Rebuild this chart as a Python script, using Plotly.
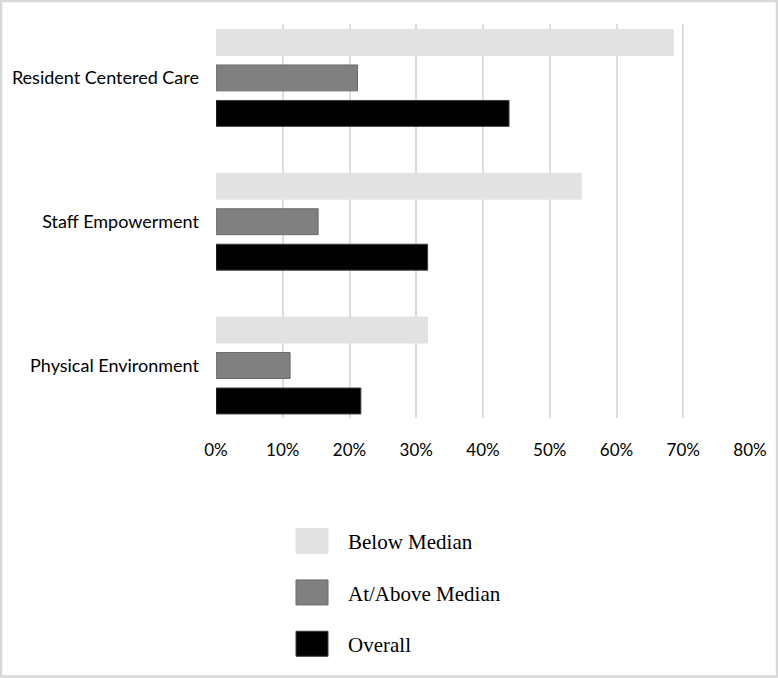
import plotly.graph_objects as go

categories = ["Resident Centered Care", "Staff Empowerment", "Physical Environment"]
below_median = [0.685, 0.547, 0.317]
at_above_median = [0.212, 0.153, 0.111]
overall = [0.439, 0.317, 0.217]
series_names = ["Below Median", "At/Above Median", "Overall"]
tick_vals = [0, 0.1, 0.2, 0.3, 0.4, 0.5, 0.6, 0.7, 0.8]

fills = ["#e2e2e2", "#808080", "#000000"]
lines = ["#e2e2e2", "#6a6a6a", "#3a3a3a"]

fig = go.Figure()
for name, vals, fc, lc in zip(series_names, [below_median, at_above_median, overall], fills, lines):
    fig.add_trace(go.Bar(
        y=categories, x=vals, name=name, orientation="h",
        marker=dict(color=fc, line=dict(color=lc, width=1)),
        legendgroup=name,
    ))

L, R, T, B = 216, 28, 24, 678 - 418
W, H = 778, 678
pw, ph = W - L - R, H - T - B

def px_x(p):
    return (p - L) / pw

def px_y(p):
    return (H - B - p) / ph

fig.update_layout(
    width=W, height=H,
    margin=dict(l=L, r=R, t=T, b=B, pad=0),
    paper_bgcolor="white", plot_bgcolor="white",
    barmode="group", bargap=0.26, bargroupgap=0.27,
    font=dict(family="Lato, Open Sans, sans-serif", size=18, color="#000000"),
    xaxis=dict(
        range=[0, 0.8], tickvals=tick_vals, tickformat=".0%",
        showgrid=True, gridcolor="#dcdcdc", gridwidth=2,
        zeroline=False, showline=False, ticks="",
        ticklabelstandoff=20, fixedrange=True,
        tickfont=dict(size=17),
    ),
    yaxis=dict(
        categoryorder="array", categoryarray=categories,
        range=[2.365, -0.375], showgrid=False, zeroline=False,
        showline=False, ticks="", ticklabelstandoff=16, fixedrange=True,
        tickfont=dict(size=18),
    ),
    legend=dict(
        orientation="v", x=px_x(276), xanchor="left", y=px_y(521), yanchor="top",
        font=dict(family="Liberation Serif, Times New Roman, serif", size=21, color="#000000"),
        tracegroupgap=21, traceorder="grouped", bgcolor="rgba(0,0,0,0)",
        itemwidth=62,
    ),
    showlegend=True,
    shapes=[dict(
        type="rect", xref="paper", yref="paper",
        x0=px_x(1), x1=px_x(777), y0=px_y(676.5), y1=px_y(1),
        line=dict(color="#d9d9d9", width=2.5), fillcolor="rgba(0,0,0,0)", layer="below",
    )],
)

post = """
document.body.style.margin = '0';
var gd = document.getElementById('{plot_id}');
gd.querySelectorAll('.legend .legendpoints path').forEach(function(p){
  p.setAttribute('d', 'M16,12.5H-16V-12.5H16Z');
});
"""

fig.write_html("out.html", post_script=post, config={"displayModeBar": False})
